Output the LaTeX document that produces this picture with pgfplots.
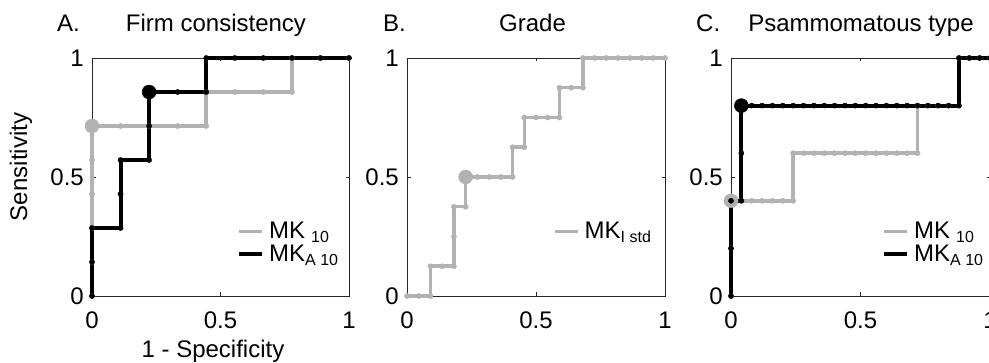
\documentclass[border=0pt]{standalone}
\usepackage{fontspec}
\setmainfont{Liberation Sans}
\usepackage{pgfplots}
\pgfplotsset{compat=1.18}
\definecolor{mgray}{gray}{0.7}
\newcommand\fA{\fontsize{24}{28}\selectfont}
\newcommand\fL{\fontsize{24}{26}\selectfont}
\newcommand\sub[1]{\raisebox{-3.5pt}{\fontsize{16}{16}\selectfont #1}}
\pgfplotsset{
 roc/.style={
  scale only axis, height=238pt, anchor=south west,
  xmin=0, xmax=1, ymin=0, ymax=1, xtick={0,0.5,1}, ytick={0,0.5,1},
  tick align=inside, major tick length=3.5pt,
  tick style={black!85, line width=0.6pt},
  axis line style={black!85, line width=0.8pt},
  clip=false,
  /pgf/number format/assume math mode=true,
  ticklabel style={font=\fA, inner sep=0pt},
  xticklabel style={anchor=north, yshift=-16pt},
  yticklabel style={anchor=east, xshift=-8pt},
  legend style={draw=none, fill=none, inner sep=0pt, font=\fL,
    nodes={inner sep=0pt}, column sep=5pt, row sep=5pt, anchor=north west},
  legend cell align=left,
  legend image code/.code={\draw[##1,mark=none] (0pt,0pt) -- (23pt,0pt);},
 },
 blk/.style={black, line width=4pt, mark=*, mark size=2.6pt,
   mark options={solid, fill=black, draw=black, line width=0.4pt}},
 gry/.style={mgray, line width=3.5pt, mark=*, mark size=2.6pt,
   mark options={solid, fill=mgray, draw=mgray, line width=0.4pt}},
 bigb/.style={only marks, mark=*, mark size=7pt, black, mark options={fill=black}},
 bigg/.style={only marks, mark=*, mark size=7pt, mgray, mark options={fill=mgray, draw=mgray}},
}
\begin{document}
\begin{tikzpicture}
% ---------- A ----------
\begin{axis}[roc, at={(92pt,67pt)}, width=257pt,
  legend style={at={(0.564,0.31)}}]
\addplot[gry] coordinates {(0,0)(0,0.1429)(0,0.2857)(0,0.4286)(0,0.5714)(0,0.7143)(0.1111,0.7143)(0.2222,0.7143)(0.3333,0.7143)(0.4444,0.7143)(0.4444,0.8571)(0.5556,0.8571)(0.6667,0.8571)(0.7778,0.8571)(0.7778,1)(0.8889,1)(1,1)};
\addlegendentry{MK\hspace{6pt}\sub{10}}
\addplot[bigg, forget plot] coordinates {(0,0.7143)};
\addplot[blk] coordinates {(0,0)(0,0.1429)(0,0.2857)(0.1111,0.2857)(0.1111,0.4286)(0.1111,0.5714)(0.2222,0.5714)(0.2222,0.7143)(0.2222,0.8571)(0.3333,0.8571)(0.4444,0.8571)(0.4444,1)(0.5556,1)(0.6667,1)(0.7778,1)(0.8889,1)(1,1)};
\addlegendentry{MK\sub{A 10}}
\addplot[bigb, forget plot] coordinates {(0.2222,0.8571)};
\end{axis}
% ---------- B ----------
\begin{axis}[roc, at={(407pt,67pt)}, width=258pt,
  legend style={at={(0.566,0.31)}}]
\addplot[gry] coordinates {(0,0)(0.0455,0)(0.0909,0)(0.0909,0.125)(0.1364,0.125)(0.1818,0.125)(0.1818,0.25)(0.1818,0.375)(0.2273,0.375)(0.2273,0.5)(0.2727,0.5)(0.3182,0.5)(0.3636,0.5)(0.4091,0.5)(0.4091,0.625)(0.4545,0.625)(0.4545,0.75)(0.5,0.75)(0.5455,0.75)(0.5909,0.75)(0.5909,0.875)(0.6364,0.875)(0.6818,0.875)(0.6818,1)(0.7273,1)(0.7727,1)(0.8182,1)(0.8636,1)(0.9091,1)(0.9545,1)(1,1)};
\addlegendentry{MK\sub{I std}}
\addplot[bigg, forget plot] coordinates {(0.2273,0.5)};
\end{axis}
% ---------- C ----------
\begin{axis}[roc, at={(731pt,67pt)}, width=259pt,
  legend style={at={(0.583,0.31)}}]
\addplot[gry] coordinates {(0,0)(0,0.2)(0,0.4)(0.04,0.4)(0.08,0.4)(0.12,0.4)(0.16,0.4)(0.2,0.4)(0.24,0.4)(0.24,0.6)(0.28,0.6)(0.32,0.6)(0.36,0.6)(0.4,0.6)(0.44,0.6)(0.48,0.6)(0.52,0.6)(0.56,0.6)(0.6,0.6)(0.64,0.6)(0.68,0.6)(0.72,0.6)(0.72,0.8)(0.76,0.8)(0.8,0.8)(0.84,0.8)(0.88,0.8)(0.88,1)(0.92,1)(0.96,1)(1,1)};
\addlegendentry{MK\hspace{6pt}\sub{10}}
\addplot[bigg, forget plot] coordinates {(0,0.4)};
\addplot[blk] coordinates {(0,0)(0,0.2)(0,0.4)(0.04,0.4)(0.04,0.6)(0.04,0.8)(0.08,0.8)(0.12,0.8)(0.16,0.8)(0.2,0.8)(0.24,0.8)(0.28,0.8)(0.32,0.8)(0.36,0.8)(0.4,0.8)(0.44,0.8)(0.48,0.8)(0.52,0.8)(0.56,0.8)(0.6,0.8)(0.64,0.8)(0.68,0.8)(0.72,0.8)(0.76,0.8)(0.8,0.8)(0.84,0.8)(0.88,0.8)(0.88,1)(0.92,1)(0.96,1)(1,1)};
\addlegendentry{MK\sub{A 10}}
\addplot[bigb, forget plot] coordinates {(0.04,0.8)};
\end{axis}
% ---------- titles and labels ----------
\node[anchor=base west, font=\fA, inner sep=0pt] at (57pt,331pt) {A.};
\node[anchor=base, font=\fA, inner sep=0pt] at (216pt,331pt) {Firm consistency};
\node[anchor=base west, font=\fA, inner sep=0pt] at (383pt,331pt) {B.};
\node[anchor=base, font=\fA, inner sep=0pt] at (532.5pt,331pt) {Grade};
\node[anchor=base west, font=\fA, inner sep=0pt] at (696pt,331pt) {C.};
\node[anchor=base, font=\fA, inner sep=0pt] at (861pt,331pt) {Psammomatous type};
\node[anchor=base, rotate=90, font=\fA, inner sep=0pt] at (27pt,196pt) {Sensitivity};
\node[anchor=base, font=\fA, inner sep=0pt] at (213pt,5pt) {1 - Specificity};
\pgfresetboundingbox
\useasboundingbox (0,0) rectangle (989pt,363pt);
\end{tikzpicture}
\end{document}
